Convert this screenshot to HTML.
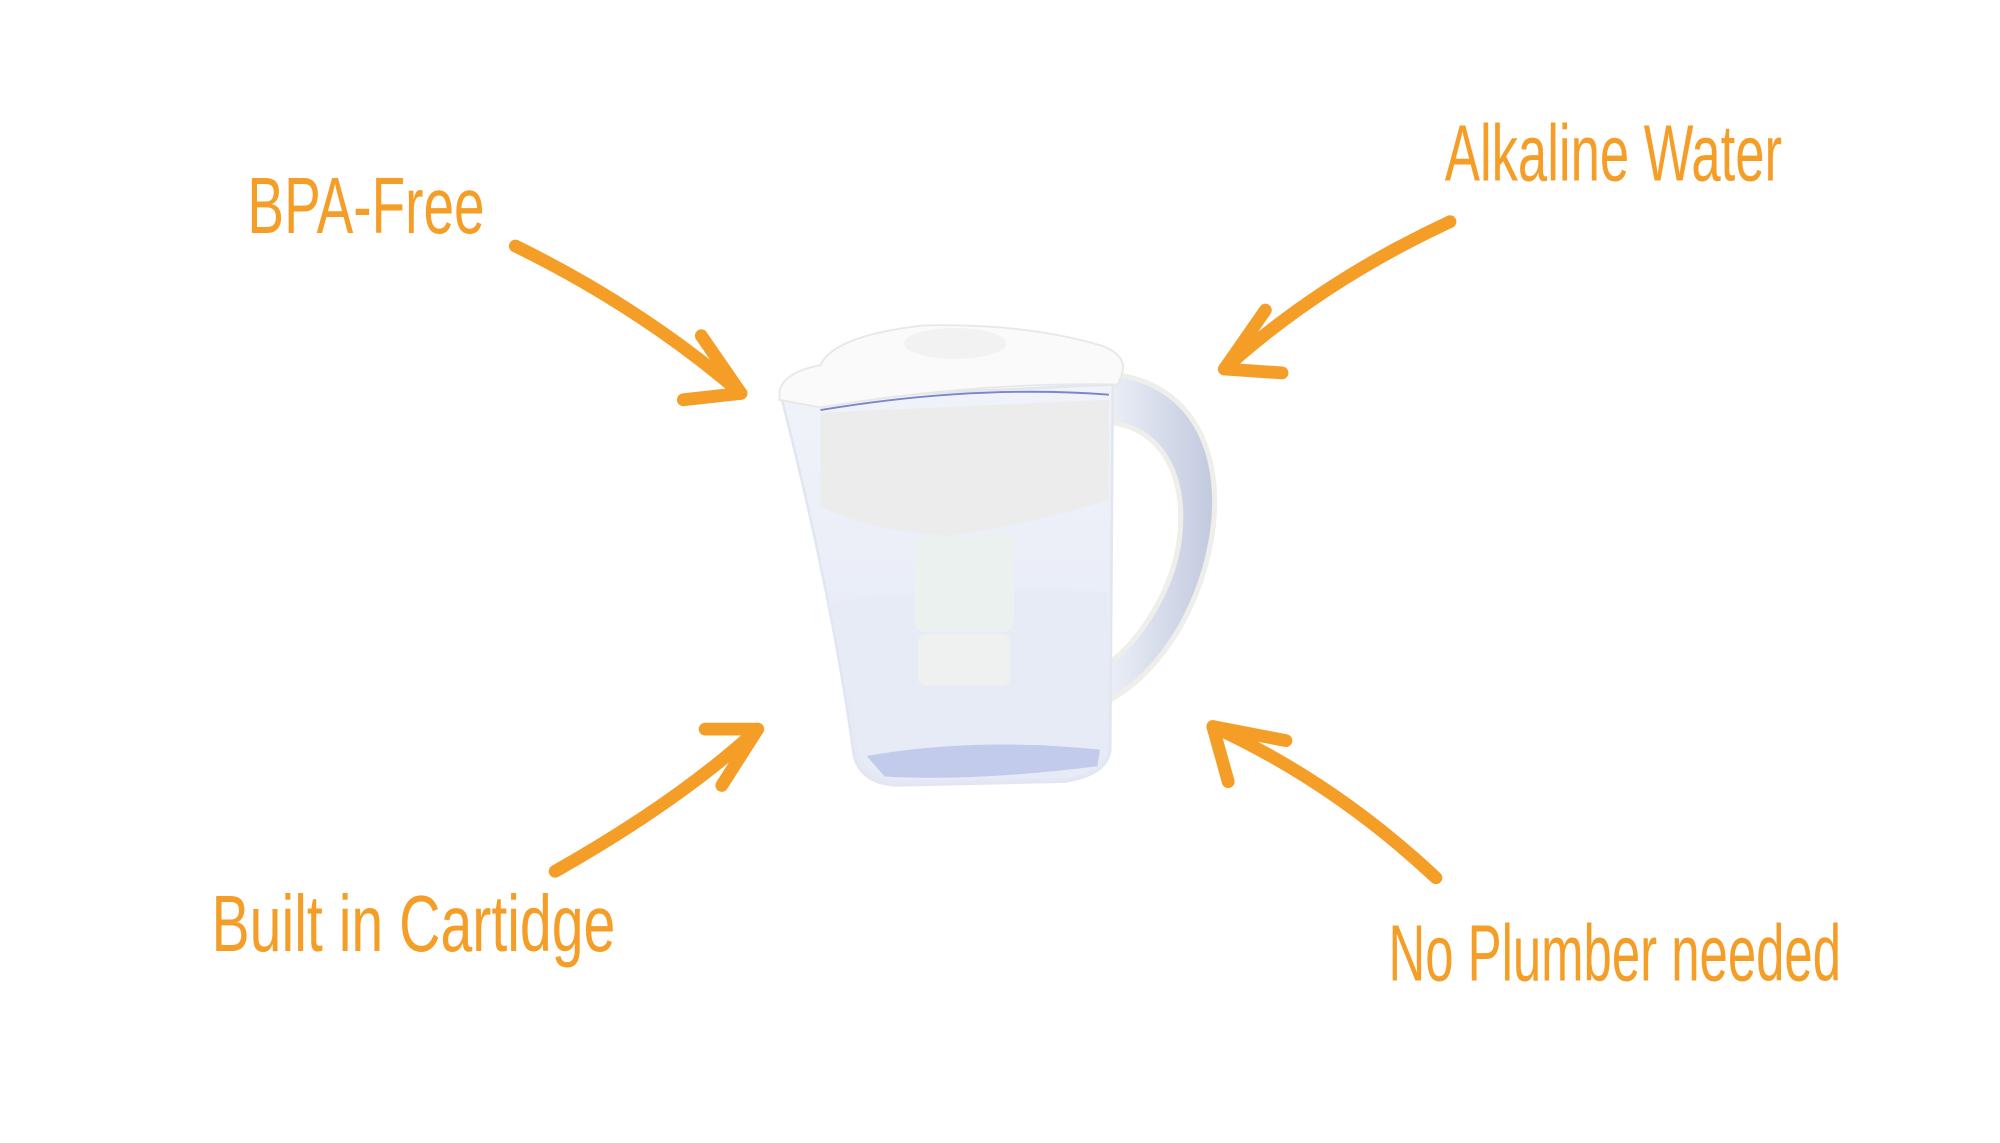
<!DOCTYPE html>
<html><head><meta charset="utf-8"><style>
html,body{margin:0;padding:0;background:#fff;}
svg{display:block;}
text{font-family:"Liberation Sans Narrow","Liberation Sans",sans-serif;fill:#F59E27;}
</style></head><body>
<svg width="2000" height="1143" viewBox="0 0 1560 892" preserveAspectRatio="none" xmlns="http://www.w3.org/2000/svg">
<defs>
<linearGradient id="water" x1="0" y1="0" x2="0" y2="1">
<stop offset="0" stop-color="#f1f3fa"/><stop offset="1" stop-color="#e4e8f5"/>
</linearGradient>
<linearGradient id="hand" x1="0" y1="0" x2="1" y2="0">
<stop offset="0" stop-color="#edf0f8"/><stop offset="1" stop-color="#c2c9de"/>
</linearGradient>
</defs>
<rect width="1560" height="892" fill="#fff"/>

<g transform="translate(0,0)">
<text x="193" y="182" font-size="62" textLength="185" lengthAdjust="spacingAndGlyphs">BPA-Free</text>
<text x="1127" y="141" font-size="62" textLength="263" lengthAdjust="spacingAndGlyphs">Alkaline Water</text>
<text x="165" y="742" font-size="62" textLength="315" lengthAdjust="spacingAndGlyphs">Built in Cartidge</text>
<text x="1083" y="765" font-size="62" textLength="353" lengthAdjust="spacingAndGlyphs">No Plumber needed</text>
</g>

<g fill="none" stroke="#F59E27" stroke-width="10" stroke-linecap="round" stroke-linejoin="round">
<path d="M402,192 Q500,240 578,307"/>
<path d="M547,262 L578,307 L533,312"/>
<path d="M1131,173 Q1030,220 955,288"/>
<path d="M987,242 L955,288 L1000,291"/>
<path d="M433,680 Q530,625 591,569"/>
<path d="M550,569 L591,569 L563,613"/>
<path d="M1120,685 Q1040,610 946,567"/>
<path d="M1003,578 L946,567 L958,610"/>
</g>

<g>
<path d="M868,292 C935,300 955,360 945,420 C935,480 900,530 862,548 L862,520 C890,500 915,460 920,420 C926,370 905,335 868,330 Z" fill="url(#hand)" stroke="#eeeeea" stroke-width="4"/>
<path d="M610,312 L868,300 L866,585 Q864,605 830,610 L700,613 Q672,612 666,590 Q650,470 610,312 Z" fill="url(#water)" stroke="#e2e6f0" stroke-width="2"/>
<path d="M646,470 Q750,458 864,462 L864,585 Q860,603 830,607 L702,609 Q676,608 670,588 Q660,520 646,470 Z" fill="#e7ebf6"/>
<path d="M676,590 Q760,575 858,585 L856,598 Q760,610 690,606 Z" fill="#aab6e6" opacity="0.6"/>
<path d="M640,322 L865,312 L865,390 Q800,410 740,418 Q680,415 640,395 Z" fill="#ececec"/>
<path d="M640,320 Q760,300 865,308" fill="none" stroke="#7d86c8" stroke-width="1.5"/>
<rect x="713" y="418" width="78" height="75" rx="8" fill="#eaf1ee"/>
<rect x="716" y="495" width="72" height="40" rx="6" fill="#eef2ee" opacity="0.9"/>
<path d="M608,305 Q612,290 640,285 Q650,262 720,254 Q800,252 860,270 Q880,278 875,292 L872,300 Q760,298 640,318 L608,312 Z" fill="#fafafa" stroke="#e8e8e8" stroke-width="1.5"/>
<ellipse cx="745" cy="268" rx="40" ry="12" fill="#f2f2f2"/>
</g>
</svg>
</body></html>
